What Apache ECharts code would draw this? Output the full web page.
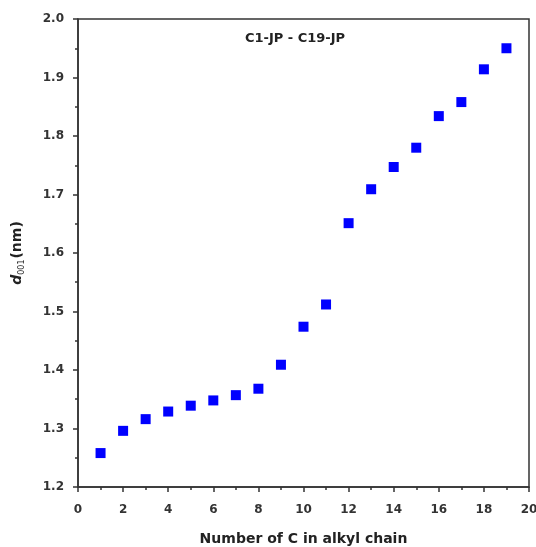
<!DOCTYPE html>
<html><head><meta charset="utf-8">
<script src="https://cdn.jsdelivr.net/npm/echarts@6/dist/echarts.min.js"></script>
<style>html,body{margin:0;padding:0;background:#fff}#c{width:536px;height:547px}</style>
</head><body><div id="c"></div>
<script>
const carbonNumbers = [1,2,3,4,5,6,7,8,9,10,11,12,13,14,15,16,17,18,19];
const d001Values = [1.258,1.296,1.316,1.329,1.339,1.348,1.357,1.368,1.409,1.474,1.512,1.651,1.709,1.747,1.780,1.834,1.858,1.914,1.950];
const chartTitle = 'C1-JP - C19-JP';
const xAxisTitle = 'Number of C in alkyl chain';

const chart = echarts.init(document.getElementById('c'), null, {renderer:'canvas'});
const axisColor = '#333';
const font = '"DejaVu Sans", Arial, sans-serif';
chart.setOption({
  animation:false,
  title:{text:chartTitle,left:290,top:27,textAlign:'center',textStyle:{fontFamily:font,fontSize:13,fontWeight:'bold',color:'#222'}},
  grid:{left:78,right:7,top:19,bottom:60,containLabel:false,outerBoundsMode:'none',show:true,borderColor:axisColor,borderWidth:1.5,backgroundColor:'#fff'},
  xAxis:{type:'value',min:0,max:20,interval:2,
    name:xAxisTitle,nameLocation:'middle',nameGap:45,
    nameTextStyle:{fontFamily:font,fontSize:14,fontWeight:'bold',color:'#222'},
    axisLine:{lineStyle:{color:axisColor,width:1.5}},
    axisTick:{inside:false,length:5,lineStyle:{color:axisColor,width:1.5}},
    minorTick:{show:true,splitNumber:2,length:3,lineStyle:{color:axisColor,width:1.5}},
    axisLabel:{fontFamily:font,fontSize:12,fontWeight:'bold',color:'#333',margin:17},
    splitLine:{show:false}},
  yAxis:{type:'value',min:1.2,max:2.0,interval:0.1,
    name:'{d|d}{sub|001}{n|(nm)}',nameLocation:'middle',nameGap:52,nameRotate:90,
    nameTextStyle:{rich:{
      d:{fontFamily:font,fontSize:14,fontWeight:'bold',fontStyle:'italic',color:'#222'},
      sub:{fontFamily:font,fontSize:8,color:'#222',padding:[9,1,0,0]},
      n:{fontFamily:font,fontSize:14,fontWeight:'bold',color:'#222'}}},
    axisLine:{lineStyle:{color:axisColor,width:1.5}},
    axisTick:{inside:false,length:5,lineStyle:{color:axisColor,width:1.5}},
    minorTick:{show:true,splitNumber:2,length:3,lineStyle:{color:axisColor,width:1.5}},
    axisLabel:{fontFamily:font,fontSize:12,fontWeight:'bold',color:'#333',margin:14,
      formatter:v=>v.toFixed(1)},
    splitLine:{show:false}},
  series:[{type:'scatter',symbol:'rect',symbolSize:10,
    itemStyle:{color:'#0000ff',opacity:1},
    emphasis:{disabled:true},
    data:carbonNumbers.map((c,i)=>[c,d001Values[i]])}]
});
</script></body></html>
